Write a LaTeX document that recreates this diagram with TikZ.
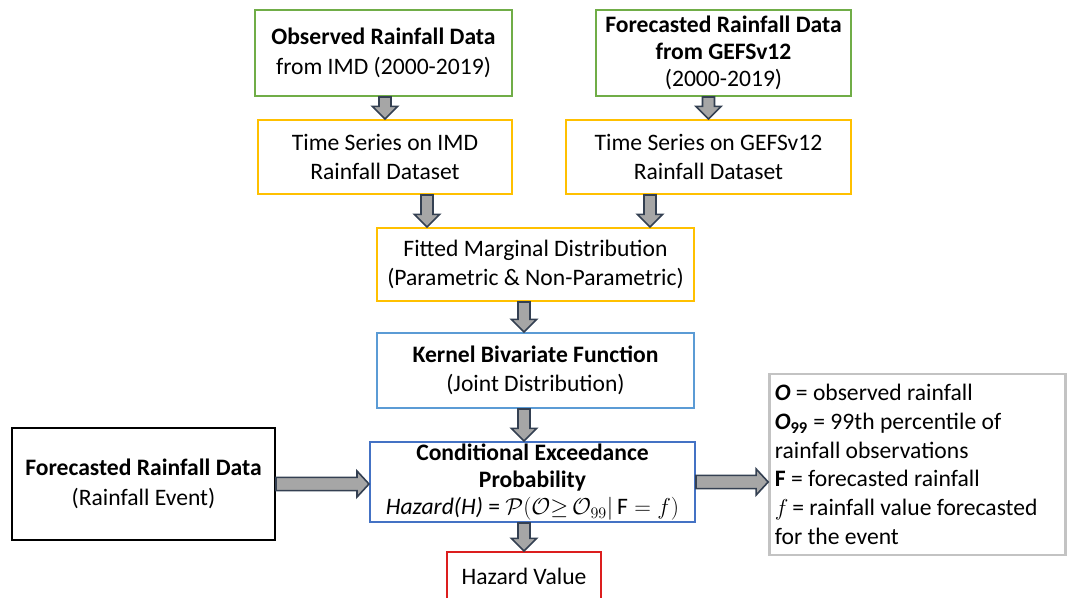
\documentclass[tikz,border=0pt]{standalone}
\usepackage{xcolor}
\usepackage{amsmath, amssymb}
\usepackage{fontspec}
\setmainfont{Carlito}
\usepackage{tikz}
\usetikzlibrary{calc}

\definecolor{boxgreen}{RGB}{112,173,71}
\definecolor{boxgold}{RGB}{255,192,0}
\definecolor{boxblue}{RGB}{91,155,213}
\definecolor{boxdarkblue}{RGB}{68,114,196}
\definecolor{boxred}{RGB}{220,30,30}
\definecolor{boxgray}{RGB}{195,195,195}
\definecolor{arrowfill}{RGB}{166,166,166}
\definecolor{arrowline}{RGB}{52,64,82}

% block arrows, start point gives the x (down) or y (right)
\newcommand{\downblk}[2]{%
  \draw[blockarrow] let \p1=(#1), \p2=(#2) in
    (\x1-4.5pt,\y1) -- (\x1-4.5pt,\y2+9.5pt) -- (\x1-9.5pt,\y2+9.5pt)
    -- (\x1,\y2) -- (\x1+9.5pt,\y2+9.5pt) -- (\x1+4.5pt,\y2+9.5pt)
    -- (\x1+4.5pt,\y1) -- cycle;}
\newcommand{\rightblk}[2]{%
  \draw[blockarrow] let \p1=(#1), \p2=(#2) in
    (\x1,\y1-5pt) -- (\x2-9pt,\y1-5pt) -- (\x2-9pt,\y1-9.75pt)
    -- (\x2,\y1) -- (\x2-9pt,\y1+9.75pt) -- (\x2-9pt,\y1+5pt)
    -- (\x1,\y1+5pt) -- cycle;}

\begin{document}
\begin{tikzpicture}[x=0.75pt,y=-0.75pt,
  box/.style={draw, line width=1.5pt, align=center, inner sep=2pt, fill=white,
    font=\fontsize{17.7}{22}\selectfont},
  blockarrow/.style={fill=arrowfill, draw=arrowline, line width=1.2pt, line join=miter}]
\useasboundingbox (0,0) rectangle (1068,597);

\node[box, draw=boxgreen, minimum width=192.75pt, minimum height=64.5pt] (obs) at (383.5,53)
  {\textbf{Observed Rainfall Data}\\from IMD (2000-2019)};
\node[box, draw=boxgreen, minimum width=191.25pt, minimum height=64.5pt,
  font=\fontsize{17.7}{20}\selectfont] (gefs) at (723.5,53)
  {\textbf{Forecasted Rainfall Data}\\\textbf{from GEFSv12}\\(2000-2019)};
\node[box, draw=boxgold, minimum width=190.5pt, minimum height=55.5pt] (tsimd) at (385,157)
  {Time Series on IMD\\Rainfall Dataset};
\node[box, draw=boxgold, minimum width=213.75pt, minimum height=55.5pt] (tsgefs) at (708.5,157)
  {Time Series on GEFSv12\\Rainfall Dataset};
\node[box, draw=boxgold, minimum width=237.75pt, minimum height=54.75pt] (fitted) at (535.5,264.5)
  {Fitted Marginal Distribution\\(Parametric \& Non-Parametric)};
\node[box, draw=boxblue, minimum width=237.75pt, minimum height=56.25pt] (kernel) at (535.5,370.5)
  {\textbf{Kernel Bivariate Function}\\(Joint Distribution)};
\node[box, draw=boxdarkblue, minimum width=243.75pt, minimum height=60pt, inner sep=1pt,
  font=\fontsize{17.7}{20.5}\selectfont] (cond) at (532.5,482)
  {\textbf{Conditional Exceedance}\\\textbf{Probability}\\
   \textit{Hazard(H)} = $\mathcal{P}(\mathcal{O}{\geq}\,\mathcal{O}_{99}|\,\mathrm{F}=f)$};
\node[box, draw=boxred, minimum width=115.5pt, minimum height=36pt] (hazard) at (524,576)
  {Hazard Value};
\node[box, draw=black, minimum width=197.25pt, minimum height=84pt] (fcst) at (143.5,484)
  {\textbf{Forecasted Rainfall Data}\\(Rainfall Event)};
\node[box, draw=boxgray, line width=2pt, align=flush left, text width=214pt, inner sep=4pt,
  minimum height=135.75pt, font=\fontsize{17.7}{21.5}\selectfont] (legend) at (917.5,464.5)
  {\textbf{\textit{O}} = observed rainfall\\
   \textbf{\textit{O}}\textsubscript{\textbf{99}} = 99th percentile of\\
   rainfall observations\\
   \textbf{F} = forecasted rainfall\\
   $f$\,= rainfall value forecasted\\
   for the event};

%Arrows
\downblk{obs.south -| tsimd.north}{tsimd.north}
\downblk{gefs.south -| tsgefs.north}{tsgefs.north}
\downblk{$(tsimd.south)+(42,0)$}{fitted.north}
\downblk{$(tsgefs.south)+(-58.5,0)$}{fitted.north}
\downblk{$(fitted.south)+(-11.5,0)$}{kernel.north}
\downblk{$(kernel.south)+(-11.5,0)$}{cond.north}
\downblk{hazard.north |- cond.south}{hazard.north}
\rightblk{fcst.east}{cond.west}
\rightblk{cond.east}{legend.west}
\end{tikzpicture}
\end{document}
